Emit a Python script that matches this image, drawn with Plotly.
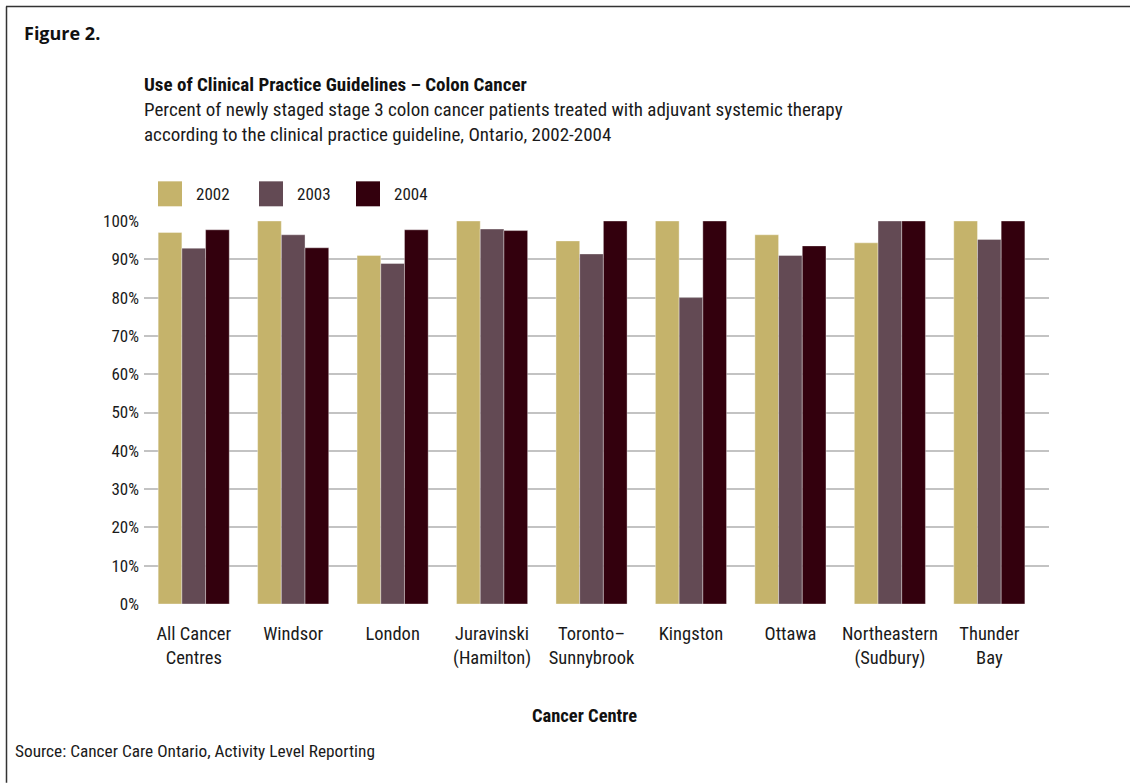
import plotly.graph_objects as go

categories = ["All Cancer<br>Centres", "Windsor", "London", "Juravinski<br>(Hamilton)",
              "Toronto–<br>Sunnybrook", "Kingston", "Ottawa", "Northeastern<br>(Sudbury)",
              "Thunder<br>Bay"]
years = ["2002", "2003", "2004"]
values_2002 = [97.0, 100.0, 91.0, 100.0, 94.8, 100.0, 96.4, 94.3, 100.0]
values_2003 = [92.9, 96.4, 88.9, 97.9, 91.4, 80.0, 91.0, 100.0, 95.2]
values_2004 = [97.7, 93.0, 97.7, 97.5, 100.0, 100.0, 93.5, 100.0, 100.0]
series = [values_2002, values_2003, values_2004]
colors = ["#c5b36b", "#634a54", "#33000d"]
y_ticks = list(range(0, 101, 10))
y_ticklabels = [f"{v}%" for v in y_ticks]

W, H = 1130, 783
L, R, T, B = 144, 1049, 220.7, 604

def px(x):
    return (x - L) / (R - L)

def py(y):
    return (B - y) / (B - T)

NARROW = "Liberation Sans Narrow, Roboto Condensed, DejaVu Sans Condensed, Arial Narrow, sans-serif"
TXT = "#1a1a1a"

fig = go.Figure()
for name, vals, col in zip(years, series, colors):
    fig.add_trace(go.Bar(
        x=list(range(len(categories))), y=vals, name=name,
        marker=dict(color=col, line=dict(color="rgba(255,255,255,0.6)", width=0.6)),
        showlegend=False,
    ))

fig.update_layout(
    width=W, height=H, autosize=False,
    margin=dict(l=L, r=W - R, t=T, b=H - B, pad=0),
    paper_bgcolor="white", plot_bgcolor="white",
    barmode="group", bargap=0.285, bargroupgap=0,
    font=dict(family=NARROW, size=17, color=TXT),
    xaxis=dict(
        range=[-0.5, 8.6], tickmode="array",
        tickvals=list(range(len(categories))), ticktext=categories,
        showgrid=False, zeroline=False, showline=False, ticks="",
        tickfont=dict(family=NARROW, size=18.5, color=TXT),
        ticklabelstandoff=16,
    ),
    yaxis=dict(
        range=[0, 100], tickmode="array", tickvals=y_ticks, ticktext=y_ticklabels,
        showgrid=True, gridcolor="#c3c3c3", gridwidth=2,
        zeroline=False, showline=False, ticks="",
        tickfont=dict(family=NARROW, size=17, color=TXT),
        ticklabelstandoff=4,
    ),
)

annotations = [
    dict(text="Figure 2.", x=px(22), y=py(33), xanchor="left", yanchor="middle",
         font=dict(family="Open Sans, Noto Sans, sans-serif", size=18, color="#111111", weight=700)),
    dict(text="<b>Use of Clinical Practice Guidelines – Colon Cancer</b>", x=px(142), y=py(84),
         xanchor="left", yanchor="middle", font=dict(family=NARROW, size=19, color="#111111")),
    dict(text="Percent of newly staged stage 3 colon cancer patients treated with adjuvant systemic therapy<br>"
              "according to the clinical practice guideline, Ontario, 2002-2004",
         x=px(142), y=py(122), xanchor="left", yanchor="middle", align="left",
         font=dict(family=NARROW, size=19, color=TXT)),
    dict(text="<b>Cancer Centre</b>", x=px(584), y=py(716), xanchor="center", yanchor="middle",
         font=dict(family=NARROW, size=18.5, color="#111111")),
    dict(text="Source: Cancer Care Ontario, Activity Level Reporting", x=px(13), y=py(751),
         xanchor="left", yanchor="middle", font=dict(family=NARROW, size=17.3, color=TXT)),
]

# manual legend with large swatches
leg_x = [158, 259, 356]
shapes = []
for i, (name, col) in enumerate(zip(years, colors)):
    shapes.append(dict(type="rect", xref="paper", yref="paper",
                       x0=px(leg_x[i]), x1=px(leg_x[i] + 24), y0=py(206), y1=py(181),
                       fillcolor=col, line=dict(width=0)))
    annotations.append(dict(text=name, x=px(leg_x[i] + 36), y=py(194), xanchor="left",
                            yanchor="middle", font=dict(family=NARROW, size=17, color=TXT)))

# figure frame (top and left rules)
shapes.append(dict(type="line", xref="paper", yref="paper", x0=px(6), x1=px(W), y0=py(6), y1=py(6),
                   line=dict(color="#333333", width=1.5)))
shapes.append(dict(type="line", xref="paper", yref="paper", x0=px(6.5), x1=px(6.5), y0=py(6), y1=py(H),
                   line=dict(color="#333333", width=1.5)))

for a in annotations:
    a.update(xref="paper", yref="paper", showarrow=False)
fig.update_layout(annotations=annotations, shapes=shapes)

fig.write_html("out.html")
